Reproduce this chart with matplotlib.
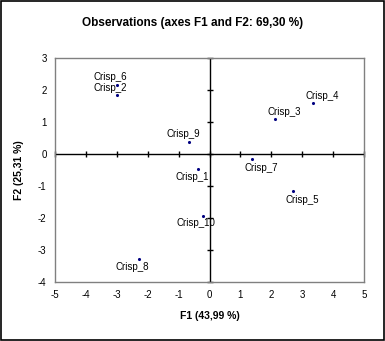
import matplotlib
matplotlib.use("Agg")
import matplotlib.pyplot as plt
from matplotlib.patches import Rectangle

plt.rcParams['font.family'] = ['Liberation Sans', 'DejaVu Sans']
plt.rcParams['axes.unicode_minus'] = False

# Observation scores on the first two factors
names = ["Crisp_1", "Crisp_2", "Crisp_3", "Crisp_4", "Crisp_5",
         "Crisp_6", "Crisp_7", "Crisp_8", "Crisp_9", "Crisp_10"]
f1 = [-0.38, -2.99, 2.12, 3.34, 2.69, -2.99, 1.37, -2.28, -0.67, -0.22]
f2 = [-0.47, 1.84, 1.09, 1.60, -1.15, 2.16, -0.16, -3.28, 0.37, -1.94]

# label offsets in pixels (dx, dy), y up
offsets = {
    "Crisp_1": (-6, -8), "Crisp_2": (-7, 7), "Crisp_3": (9, 7),
    "Crisp_4": (10, 7), "Crisp_5": (10, -9), "Crisp_6": (-7, 8),
    "Crisp_7": (9, -9), "Crisp_8": (-7, -8), "Crisp_9": (-6, 8),
    "Crisp_10": (-7, -7),
}

x_ticks = [-5, -4, -3, -2, -1, 0, 1, 2, 3, 4, 5]
y_ticks = [-4, -3, -2, -1, 0, 1, 2, 3]

fig = plt.figure(figsize=(3.85, 3.41), dpi=100)
fig.patch.set_facecolor("white")
fig.patches.append(Rectangle((0.002, 0.002), 0.996, 0.996, transform=fig.transFigure,
                             fill=False, edgecolor="black", linewidth=1.2))

ax = fig.add_axes([0.1429, 0.1730, 0.8026, 0.6569])
ax.set_xlim(-5, 5)
ax.set_ylim(-4, 3)
ax.set_xticks(x_ticks)
ax.set_yticks(y_ticks)
ax.tick_params(length=0, labelsize=7, pad=6)
for s in ax.spines.values():
    s.set_color("#808080")
    s.set_linewidth(1)

# zero lines with cross ticks
ax.axhline(0, color="black", linewidth=1, zorder=2)
ax.axvline(0, color="black", linewidth=1, zorder=2)
ax.plot(x_ticks, [0] * len(x_ticks), linestyle="none", marker="|",
        markersize=4, color="black", markeredgewidth=1, clip_on=False, zorder=2)
ax.plot([0] * len(y_ticks), y_ticks, linestyle="none", marker="_",
        markersize=4, color="black", markeredgewidth=1, clip_on=False, zorder=2)

ax.scatter(f1, f2, s=5, color="#000080", zorder=3, linewidths=0)
for n, x, y in zip(names, f1, f2):
    dx, dy = offsets[n]
    ax.annotate(n, (x, y), xytext=(dx, dy), textcoords="offset pixels",
                ha="center", va="center", fontsize=7, zorder=4)

ax.set_xlabel("F1 (43,99 %)", fontsize=7.5, fontweight="bold", labelpad=8)
ax.set_ylabel("F2 (25,31 %)", fontsize=7.5, fontweight="bold", labelpad=10)
fig.text(0.5, 0.932, "Observations (axes F1 and F2: 69,30 %)", ha="center",
         va="center", fontsize=8.5, fontweight="bold")

fig.savefig("out.png", dpi=100, facecolor="white")
